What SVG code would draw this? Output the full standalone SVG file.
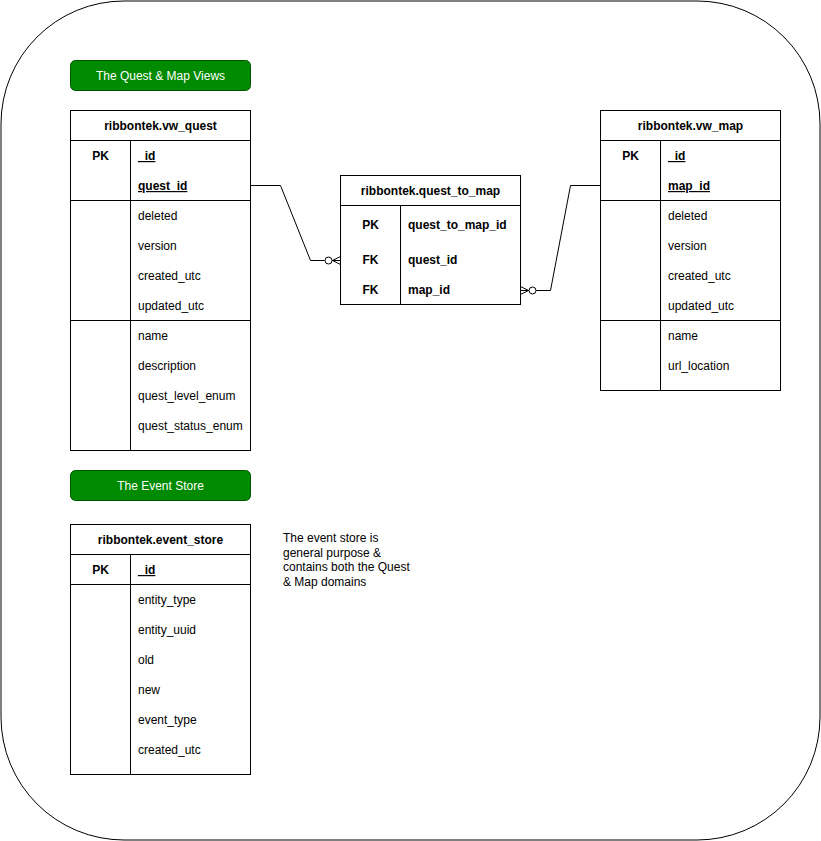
<svg xmlns="http://www.w3.org/2000/svg" width="821" height="841" viewBox="0 0 821 841">
<defs>
<style>
text{font-family:"Liberation Sans",Arial,Helvetica,sans-serif;font-size:12px;fill:#000}
.b{font-weight:bold}
.u{text-decoration:underline}
.c{text-anchor:middle}
.w{fill:#fff}
.box{fill:#fff;stroke:#000;stroke-width:1}
.ln{stroke:#000;stroke-width:1;fill:none}
.lbl{fill:#008a00;stroke:#005700;stroke-width:1}
</style>
<marker id="zm" markerUnits="userSpaceOnUse" markerWidth="20" markerHeight="14" refX="16" refY="7" orient="auto" viewBox="0 0 20 14">
<path d="M8,7 L16,3 M8,7 L16,7 M8,7 L16,11" stroke="#000" stroke-width="1" fill="none"/>
<circle cx="4" cy="7" r="3.5" fill="#fff" stroke="#000" stroke-width="1"/>
</marker>
</defs>
<rect x="1" y="1" width="819" height="839" rx="123" ry="123" fill="#fff" stroke="#000" stroke-width="1"/>

<g id="label-quest-map">
<rect class="lbl" x="70.5" y="60.5" width="180" height="30" rx="5"/>
<text class="c w" x="160.5" y="79.5">The Quest &amp; Map Views</text>
</g>
<g id="label-event-store">
<rect class="lbl" x="70.5" y="470.5" width="180" height="30" rx="5"/>
<text class="c w" x="160.5" y="489.5">The Event Store</text>
</g>

<g id="vw_quest">
<rect class="box" x="70.5" y="110.5" width="180" height="340"/>
<path class="ln" d="M70.5,140.5H250.5M70.5,200.5H250.5M70.5,320.5H250.5M130.5,140.5V450.5"/>
<text class="b c" x="160.5" y="129.5">ribbontek.vw_quest</text>
<text class="b c" x="100.5" y="160">PK</text>
<text class="b u" x="138" y="160">_id</text>
<text class="b u" x="138" y="190">quest_id</text>
<text x="138" y="220">deleted</text>
<text x="138" y="250">version</text>
<text x="138" y="280">created_utc</text>
<text x="138" y="310">updated_utc</text>
<text x="138" y="340">name</text>
<text x="138" y="370">description</text>
<text x="138" y="400">quest_level_enum</text>
<text x="138" y="430">quest_status_enum</text>
</g>

<g id="quest_to_map">
<rect class="box" x="340.5" y="175.5" width="180" height="129"/>
<path class="ln" d="M340.5,205.5H520.5M400.5,205.5V304.5"/>
<text class="b c" x="430.5" y="194.5">ribbontek.quest_to_map</text>
<text class="b c" x="370.5" y="229">PK</text>
<text class="b" x="408" y="229">quest_to_map_id</text>
<text class="b c" x="370.5" y="264">FK</text>
<text class="b" x="408" y="264">quest_id</text>
<text class="b c" x="370.5" y="294">FK</text>
<text class="b" x="408" y="294">map_id</text>
</g>

<g id="vw_map">
<rect class="box" x="600.5" y="110.5" width="180" height="280"/>
<path class="ln" d="M600.5,140.5H780.5M600.5,200.5H780.5M600.5,320.5H780.5M660.5,140.5V390.5"/>
<text class="b c" x="690.5" y="129.5">ribbontek.vw_map</text>
<text class="b c" x="630.5" y="160">PK</text>
<text class="b u" x="668" y="160">_id</text>
<text class="b u" x="668" y="190">map_id</text>
<text x="668" y="220">deleted</text>
<text x="668" y="250">version</text>
<text x="668" y="280">created_utc</text>
<text x="668" y="310">updated_utc</text>
<text x="668" y="340">name</text>
<text x="668" y="370">url_location</text>
</g>

<g id="event_store">
<rect class="box" x="70.5" y="524.5" width="180" height="250"/>
<path class="ln" d="M70.5,554.5H250.5M70.5,584.5H250.5M130.5,554.5V774.5"/>
<text class="b c" x="160.5" y="543.5">ribbontek.event_store</text>
<text class="b c" x="100.5" y="574">PK</text>
<text class="b u" x="138" y="574">_id</text>
<text x="138" y="604">entity_type</text>
<text x="138" y="634">entity_uuid</text>
<text x="138" y="664">old</text>
<text x="138" y="694">new</text>
<text x="138" y="724">event_type</text>
<text x="138" y="754">created_utc</text>
</g>

<g id="note">
<text x="283" y="542">The event store is</text>
<text x="283" y="556.5">general purpose &amp;</text>
<text x="283" y="571">contains both the Quest</text>
<text x="283" y="585.5">&amp; Map domains</text>
</g>

<g id="connectors">
<path class="ln" d="M250.5,185.5H280.5L310.5,260.5H340.5" marker-end="url(#zm)"/>
<path class="ln" d="M600.5,185.5H570.5L550.5,290.5H520.5" marker-end="url(#zm)"/>
</g>
</svg>
